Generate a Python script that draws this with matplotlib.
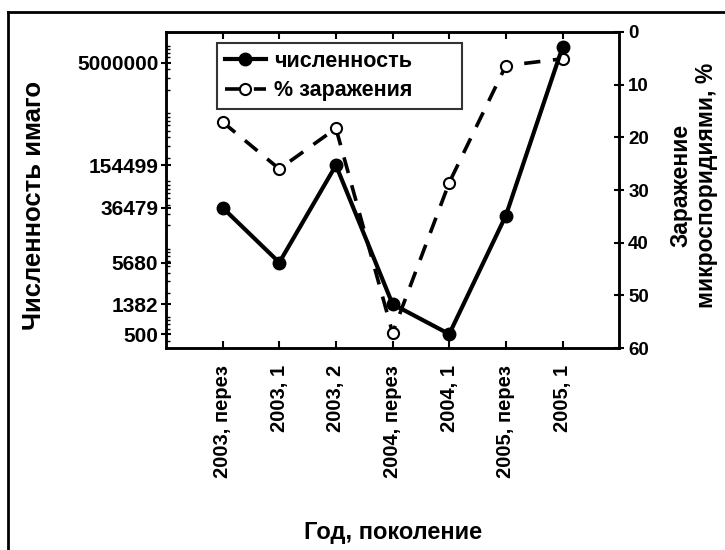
import matplotlib
matplotlib.use("Agg")
import matplotlib.pyplot as plt
from matplotlib.lines import Line2D

plt.rcParams['font.family'] = ['Liberation Sans', 'DejaVu Sans']
plt.rcParams['font.weight'] = 'bold'

categories = ["2003, перез", "2003, 1", "2003, 2", "2004, перез", "2004, 1", "2005, перез", "2005, 1"]
abundance = [36479, 5680, 154499, 1382, 500, 28000, 8500000]
infection = [17.1, 26.0, 18.3, 57.1, 28.6, 6.4, 5.1]
left_ticks = [500, 1382, 5680, 36479, 154499, 5000000]
right_ticks = [0, 10, 20, 30, 40, 50, 60]

fig = plt.figure(figsize=(7.25, 5.5), dpi=100)
ax = fig.add_axes([0.229, 0.367, 0.625, 0.575])
ax2 = ax.twinx()

x = list(range(len(categories)))

ax2.plot(x, infection, color='black', lw=2.6, dashes=(4.5, 3.5), marker='o', ms=8,
         mfc='white', mec='black', mew=1.5, zorder=2)
ax2.set_ylim(60, 0)
ax2.set_yticks(right_ticks)
ax2.tick_params(axis='y', direction='inout', length=7, width=1.5, labelsize=13.5, pad=3)
ax2.set_ylabel("Заражение\nмикроспоридиями, %", fontsize=16.5, fontweight='bold',
               linespacing=1.1)
ax2.yaxis.set_label_coords(1.112, 0.516)

ax.plot(x, abundance, color='black', lw=3, marker='o', ms=9, mfc='black', mec='black', zorder=3)
ax.set_yscale('log')
ax.set_ylim(310, 1.43e7)
ax.set_yticks(left_ticks)
ax.set_yticklabels([str(v) for v in left_ticks])
ax.tick_params(axis='y', which='major', direction='inout', length=7, width=1.5, labelsize=15, pad=2)
ax.tick_params(axis='y', which='minor', direction='in', length=3, width=1)
ax.set_xlim(-1, 7)
ax.set_xticks(x)
ax.set_xticklabels(categories, rotation=90, fontsize=14.5, fontweight='bold')
ax.tick_params(axis='x', direction='in', length=5, width=1.5, top=True, pad=12)
ax.set_ylabel("Численность имаго", fontsize=18.5, fontweight='bold')
ax.yaxis.set_label_coords(-0.265, 0.452)
ax.set_xlabel("Год, поколение", fontsize=17, fontweight='bold')
ax.xaxis.set_label_coords(0.5, -0.545)

for a in (ax, ax2):
    for s in a.spines.values():
        s.set_linewidth(1.8)

ax.set_zorder(ax2.get_zorder() + 1)
ax.patch.set_visible(False)

handles = [
    Line2D([], [], color='black', lw=3, marker='o', ms=9, mfc='black'),
    Line2D([], [], color='black', lw=2.6, dashes=(4.5, 3.5), marker='o', ms=8, mfc='white', mew=1.5),
]
leg = ax.legend(handles, ["численность", "% заражения"], loc='upper left',
                bbox_to_anchor=(0.113, 0.0, 0.541, 0.965), mode='expand',
                fontsize=15.5, frameon=True, fancybox=False,
                handlelength=1.9, handletextpad=0.4, borderpad=0.35, labelspacing=0.4,
                borderaxespad=0)
leg.get_frame().set_edgecolor('black')
leg.get_frame().set_linewidth(1.5)
for t in leg.get_texts():
    t.set_fontweight('bold')

# outer frame (left and top edges visible)
fig.add_artist(Line2D([0.011, 0.011], [0.0, 0.978], color='black', lw=2, transform=fig.transFigure))
fig.add_artist(Line2D([0.011, 1.0], [0.978, 0.978], color='black', lw=2, transform=fig.transFigure))

fig.savefig("out.png", dpi=100)
